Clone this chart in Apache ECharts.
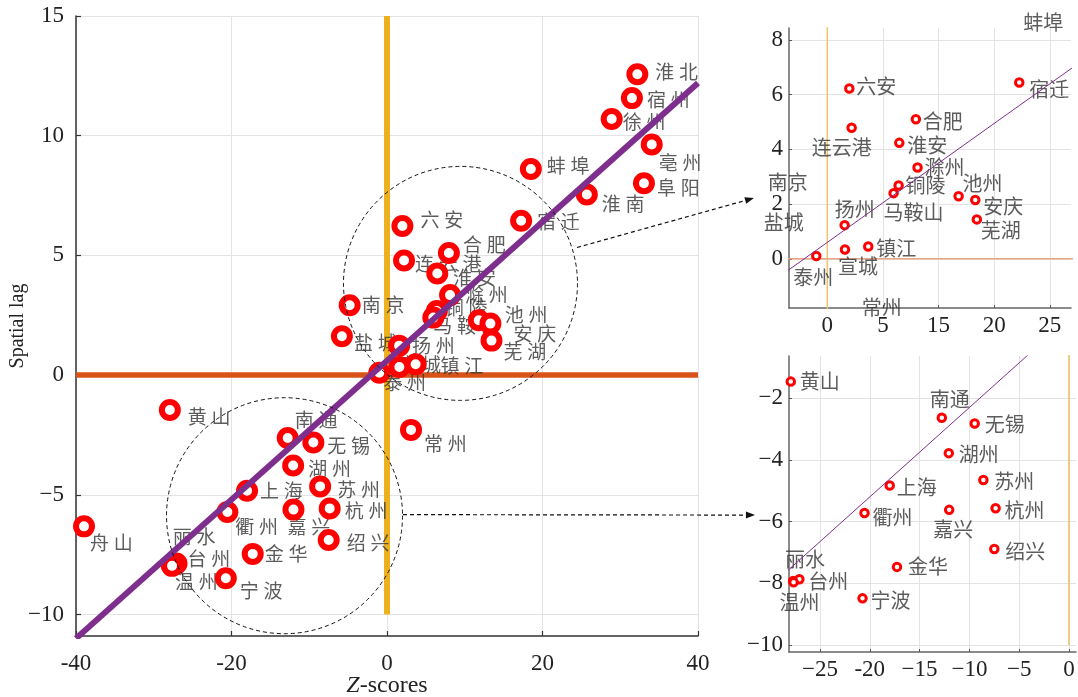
<!DOCTYPE html>
<html><head><meta charset="utf-8">
<script src="https://cdn.jsdelivr.net/npm/echarts@6/dist/echarts.min.js"></script>
<style>html,body{margin:0;padding:0;background:#fff}#c{width:1078px;height:697px}</style>
</head><body><div id="c"></div>
<script>
// ---------------- data ----------------
const cityNames = ['淮北','宿州','徐州','亳州','阜阳','蚌埠','淮南','宿迁','六安','合肥','连云港','淮安','滁州','铜陵','马鞍山','池州','安庆','芜湖','南京','盐城','扬州','宣城','镇江','泰州','常州','黄山','南通','无锡','湖州','苏州','上海','衢州','嘉兴','杭州','绍兴','金华','丽水','台州','温州','宁波','舟山'];
const zScores = [32.2,31.5,28.9,34.05,33.05,18.5,25.7,17.25,1.98,7.96,2.19,6.47,8.11,6.41,5.96,11.8,13.3,13.44,-4.8,-5.8,1.56,1.59,3.68,-0.99,3.09,-27.93,-12.77,-9.47,-12.07,-8.6,-18.0,-20.53,-12.03,-7.37,-7.5,-17.27,-27.7,-27.07,-27.65,-20.73,-38.97];
const spatialLag = [12.57,11.57,10.7,9.63,8.01,8.61,7.54,6.45,6.23,5.10,4.79,4.24,3.34,2.68,2.40,2.29,2.15,1.44,2.92,1.62,1.23,0.34,0.45,0.10,-2.29,-1.46,-2.63,-2.82,-3.78,-4.65,-4.83,-5.72,-5.62,-5.57,-6.89,-7.47,-7.93,-7.87,-7.97,-8.49,-6.32];

const topInsetCities = ['宿迁','六安','合肥','连云港','淮安','滁州','铜陵','马鞍山','池州','安庆','芜湖','扬州','宣城','镇江','泰州','蚌埠','南京','盐城','常州'];
const bottomInsetCities = ['黄山','南通','无锡','湖州','苏州','上海','衢州','嘉兴','杭州','绍兴','金华','丽水','台州','温州','宁波'];

const fitLine = [[-40, -11.0], [40, 12.2]];
const zeroLagLine = [[-40, 0], [40, 0]];
const zeroZLineMain = [[0, -10], [0, 15]];
const zeroZLineInset = [[0, -10], [0, 10]];

const mainXTicks = [-40, -20, 0, 20, 40];
const mainXLabels = ['-40', '-20', '0', '20', '40'];
const mainYTicks = [-10, -5, 0, 5, 10, 15];
const mainYLabels = ['\u221210', '\u22125', '0', '5', '10', '15'];
const topXTicks = [0, 5, 10, 15, 20];
const topXLabels = ['0', '5', '15', '20', '25'];
const topYTicks = [0, 2, 4, 6, 8];
const topYLabels = ['0', '2', '4', '6', '8'];
const botXTicks = [-25, -20, -15, -10, -5, 0];
const botXLabels = ['\u221225', '-20', '\u221215', '\u221210', '\u22125', '0'];
const botYTicks = [-10, -8, -6, -4, -2];
const botYLabels = ['\u221210', '\u22128', '\u22126', '\u22124', '\u22122'];

// ---------------- label placement (style) ----------------
const mainLabelOffset = {
  '淮北':[18,-2],'宿州':[15,2],'徐州':[11,3],'亳州':[7,18],'阜阳':[13,4],'蚌埠':[16,-3],'淮南':[15,9],'宿迁':[16,1],
  '六安':[18,-6],'合肥':[14,-8],'连云港':[11,3],'淮安':[16,4],'滁州':[15,0],'铜陵':[8,-3],'马鞍山':[0,8],'池州':[26,-5],
  '安庆':[23,10],'芜湖':[12,11],'南京':[12,0],'盐城':[12,6],'扬州':[13,0],'宣城':[-1,-2],'镇江':[25,1],'泰州':[4,10],
  '常州':[13,14],'黄山':[18,7],'南通':[7,-18],'无锡':[14,3],'湖州':[15,3],'苏州':[17,3],'上海':[13,0],'衢州':[8,15],
  '嘉兴':[-6,17],'杭州':[15,2],'绍兴':[18,3],'金华':[12,0],'丽水':[1,-28],'台州':[11,-5],'温州':[3,16],'宁波':[14,12],'舟山':[6,16]
};
const topLabelOffset = {
  '六安':[7,-2],'宿迁':[10,7],'合肥':[7,2],'连云港':[-40,20],'淮安':[8,3],'滁州':[7,0],'铜陵':[7,0],'马鞍山':[-10,19],
  '池州':[4,-13],'安庆':[8,6],'芜湖':[4,11],'扬州':[-10,-16],'宣城':[-7,17],'镇江':[8,2],'泰州':[-23,21],
  '蚌埠':[-10,-1],'南京':[-6,3],'盐城':[1,8],'常州':[0,-14]
};
const bottomLabelOffset = {
  '黄山':[9,0],'南通':[-12,-18],'无锡':[10,1],'湖州':[10,1],'苏州':[11,1],'上海':[7,2],'衢州':[8,4],'嘉兴':[-16,20],
  '杭州':[9,2],'绍兴':[11,2],'金华':[11,0],'丽水':[-8,-22],'台州':[9,2],'温州':[-14,20],'宁波':[8,2]
};
const callouts = {
  circleA: {center: [9.45, 3.83], r: 117},
  circleB: {center: [-13.18, -5.875], r: 118},
  arrowA: {from: [24.44, 5.33], to: [-6.59, 2.22]},
  arrowB: {from: [2.06, -5.83], to: [-31.53, -5.79]}
};

// ---------------- helpers ----------------
const SERIF = '"Liberation Serif", "DejaVu Serif", serif';
const CJK = '"Noto Sans CJK SC", sans-serif';
const RED = '#ff0000', PURPLE = '#7e2f8e';

function pointsFor(names, offsets) {
  return names.map(n => {
    const i = cityNames.indexOf(n);
    const off = offsets[n] || [10, 0];
    return {name: n, value: [zScores[i], spatialLag[i]], label: {position: off}};
  });
}
function labelFmt(ticks, labels) {
  return v => { const k = ticks.findIndex(t => Math.abs(t - v) < 1e-6); return k >= 0 ? labels[k] : ''; };
}
function valueAxis(gridIndex, min, max, ticks, labels, fontSize, margin, extra) {
  return Object.assign({
    type: 'value', gridIndex, min, max, nameMoveOverlap: false,
    axisLine: {show: true, onZero: false, lineStyle: {color: '#333', width: 1.5}},
    axisTick: {show: true, inside: true, length: 5, customValues: ticks, lineStyle: {color: '#333', width: 1.2}},
    axisLabel: {customValues: ticks, formatter: labelFmt(ticks, labels), fontFamily: SERIF, fontSize, color: '#222', margin},
    splitLine: {show: true, lineStyle: {color: '#e3e3e3', width: 1}}
  }, extra || {});
}
function insetAxisExtra(ticks) {
  return {axisTick: {show: true, inside: true, length: 3, customValues: ticks, lineStyle: {color: '#555'}},
          axisLine: {show: true, onZero: false, lineStyle: {color: '#666', width: 1.5}}};
}
function lineSeries(xi, data, color, width, z) {
  return {type: 'line', xAxisIndex: xi, yAxisIndex: xi, data, symbol: 'none', clip: true, silent: true, z,
    lineStyle: {color, width, cap: 'butt'}, animation: false};
}
function labelSeries(xi, data, fontSize, sep, clip) {
  return {type: 'scatter', xAxisIndex: xi, yAxisIndex: xi, data, symbol: 'circle', symbolSize: 0.01, z: 3, clip: clip, silent: true,
    itemStyle: {color: 'rgba(0,0,0,0)'}, animation: false,
    label: {show: true, align: 'left', verticalAlign: 'middle', fontFamily: CJK, fontSize, color: '#333',
      formatter: p => p.name.split('').join(sep)}};
}
function markerSeries(xi, data, size, border) {
  return {type: 'scatter', xAxisIndex: xi, yAxisIndex: xi, data, symbol: 'circle', symbolSize: size, z: 4, clip: true, silent: true,
    itemStyle: {color: '#fff', borderColor: RED, borderWidth: border, opacity: 1}, label: {show: false}, animation: false};
}

const mainPts = pointsFor(cityNames, mainLabelOffset);
const topPts = pointsFor(topInsetCities, topLabelOffset);
const botPts = pointsFor(bottomInsetCities, bottomLabelOffset);

const option = {
  animation: false,
  backgroundColor: '#fff',
  grid: [
    {left: 76, top: 16, width: 622, height: 620, outerBoundsMode: 'none', containLabel: false},
    {left: 789, top: 28, width: 282, height: 280, outerBoundsMode: 'none', containLabel: false},
    {left: 789, top: 356, width: 287, height: 296, outerBoundsMode: 'none', containLabel: false}
  ],
  xAxis: [
    valueAxis(0, -40, 40, mainXTicks, mainXLabels, 23, 16, {
      name: '{i|Z}-scores', nameLocation: 'middle', nameGap: 38,
      nameTextStyle: {fontFamily: SERIF, fontSize: 24, color: '#222', rich: {i: {fontFamily: SERIF, fontSize: 24, fontStyle: 'italic', color: '#222'}}}
    }),
    valueAxis(1, -3.44, 21.9, topXTicks, topXLabels, 23, 6, insetAxisExtra(topXTicks)),
    valueAxis(2, -28.11, 0.7, botXTicks, botXLabels, 23, 6, insetAxisExtra(botXTicks))
  ],
  yAxis: [
    valueAxis(0, -10.9, 15, mainYTicks, mainYLabels, 23, 12, {
      name: 'Spatial lag', nameLocation: 'middle', nameGap: 48, nameRotate: 90,
      nameTextStyle: {fontFamily: SERIF, fontSize: 20, color: '#222'}
    }),
    valueAxis(1, -1.8, 8.44, topYTicks, topYLabels, 23, 6, insetAxisExtra(topYTicks)),
    valueAxis(2, -10.23, -0.63, botYTicks, botYLabels, 23, 6, insetAxisExtra(botYTicks))
  ],
  series: [
    // main
    lineSeries(0, zeroZLineMain, '#edb120', 6, 1),
    lineSeries(0, zeroLagLine, '#d95319', 5.5, 2),
    labelSeries(0, mainPts, 19, '\u2005', false),
    markerSeries(0, mainPts, 16, 6),
    lineSeries(0, fitLine, PURPLE, 6, 5),
    // top inset
    lineSeries(1, zeroZLineInset, '#f0c46a', 1.5, 1),
    lineSeries(1, zeroLagLine, '#eaa585', 1.5, 2),
    labelSeries(1, topPts, 20, '', false),
    markerSeries(1, topPts, 7.5, 3),
    lineSeries(1, fitLine, PURPLE, 1, 5),
    // bottom inset
    lineSeries(2, zeroZLineInset, '#f0cc80', 2, 1),
    labelSeries(2, botPts, 20, '', false),
    markerSeries(2, botPts, 7.5, 3),
    lineSeries(2, fitLine, PURPLE, 1, 5)
  ]
};

const chart = echarts.init(document.getElementById('c'), null, {renderer: 'canvas'});
chart.setOption(option);

// ---------------- callout annotations ----------------
function px(g, pt) { return chart.convertToPixel({gridIndex: g}, pt); }
function arrow(p0, p1) {
  const dx = p1[0] - p0[0], dy = p1[1] - p0[1], L = Math.hypot(dx, dy);
  const ux = dx / L, uy = dy / L, head = 9, half = 3.5;
  const bx = p1[0] - ux * head, by = p1[1] - uy * head;
  return [
    {type: 'line', shape: {x1: p0[0], y1: p0[1], x2: bx, y2: by}, style: {stroke: '#111', lineWidth: 1.2, lineDash: [4, 3]}, silent: true, z: 10},
    {type: 'polygon', shape: {points: [[p1[0], p1[1]], [bx - uy * half, by + ux * half], [bx + uy * half, by - ux * half]]}, style: {fill: '#111'}, silent: true, z: 10}
  ];
}
const cA = px(0, callouts.circleA.center), cB = px(0, callouts.circleB.center);
const graphics = [
  {type: 'circle', shape: {cx: cA[0], cy: cA[1], r: callouts.circleA.r}, style: {fill: 'none', stroke: '#111', lineWidth: 1, lineDash: [4, 3]}, silent: true, z: 10},
  {type: 'circle', shape: {cx: cB[0], cy: cB[1], r: callouts.circleB.r}, style: {fill: 'none', stroke: '#111', lineWidth: 1, lineDash: [4, 3]}, silent: true, z: 10}
].concat(arrow(px(0, callouts.arrowA.from), px(1, callouts.arrowA.to)))
 .concat(arrow(px(0, callouts.arrowB.from), px(2, callouts.arrowB.to)));
chart.setOption({graphic: graphics});
</script>
</body></html>
